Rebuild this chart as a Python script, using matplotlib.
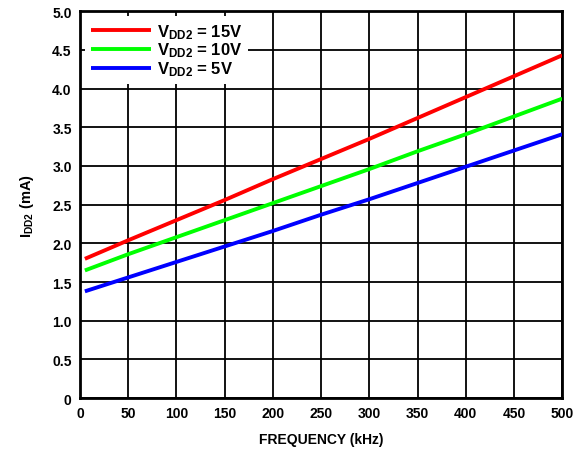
import matplotlib
matplotlib.use("Agg")
import matplotlib.pyplot as plt

plt.rcParams['font.family'] = ['Liberation Sans', 'DejaVu Sans']
plt.rcParams['font.weight'] = 'bold'
plt.rcParams['mathtext.fontset'] = 'custom'
plt.rcParams['mathtext.rm'] = 'Liberation Sans:bold'
plt.rcParams['mathtext.bf'] = 'Liberation Sans:bold'
plt.rcParams['mathtext.it'] = 'Liberation Sans:bold'

freq = [5, 50, 100, 150, 200, 250, 300, 350, 400, 450, 500]
i_15v = [1.80, 2.04, 2.30, 2.56, 2.83, 3.09, 3.35, 3.62, 3.89, 4.16, 4.43]
i_10v = [1.65, 1.86, 2.08, 2.30, 2.52, 2.74, 2.96, 3.19, 3.41, 3.64, 3.87]
i_5v = [1.38, 1.56, 1.76, 1.96, 2.16, 2.37, 2.57, 2.78, 2.99, 3.20, 3.41]
labels = [r'$\mathbf{V_{DD2}}$ = 15V', r'$\mathbf{V_{DD2}}$ = 10V', r'$\mathbf{V_{DD2}}$ = 5V']
colors = ['#ff0000', '#00ff00', '#0000ff']
xticks = list(range(0, 501, 50))
yticks = [0, 0.5, 1.0, 1.5, 2.0, 2.5, 3.0, 3.5, 4.0, 4.5, 5.0]
yticklabels = ['0', '0.5', '1.0', '1.5', '2.0', '2.5', '3.0', '3.5', '4.0', '4.5', '5.0']

fig = plt.figure(figsize=(5.76, 4.52), dpi=100)
ax = fig.add_axes([0.139, 0.117, 0.837, 0.856])

for y, c, lab in zip([i_15v, i_10v, i_5v], colors, labels):
    ax.plot(freq, y, color=c, lw=2.8, label=lab, zorder=3, solid_capstyle='butt')

ax.set_xlim(0, 500)
ax.set_ylim(0, 5.0)
ax.set_xticks(xticks)
ax.set_xticklabels([str(x) for x in xticks], fontsize=10, fontweight='bold')
ax.set_yticks(yticks)
ax.set_yticklabels(yticklabels, fontsize=10, fontweight='bold')
ax.tick_params(length=0, pad=6)
ax.grid(True, color='black', lw=1.3)
ax.set_axisbelow(True)
for s in ax.spines.values():
    s.set_linewidth(2)
    s.set_color('black')

ax.set_xlabel('FREQUENCY (kHz)', fontsize=10, fontweight='bold', labelpad=8)
ax.set_ylabel(r'$\mathbf{I_{DD2}}$ (mA)', fontsize=10.5, fontweight='bold', labelpad=12)

leg = ax.legend(loc='upper left', frameon=True, fancybox=False, framealpha=1,
                edgecolor='none', facecolor='white', fontsize=12,
                handlelength=3.6, handletextpad=0.35, labelspacing=0.0,
                borderaxespad=0.3, borderpad=0.35)
for t in leg.get_texts():
    t.set_fontweight('bold')
leg.set_zorder(5)

fig.savefig('out.png', dpi=100)
